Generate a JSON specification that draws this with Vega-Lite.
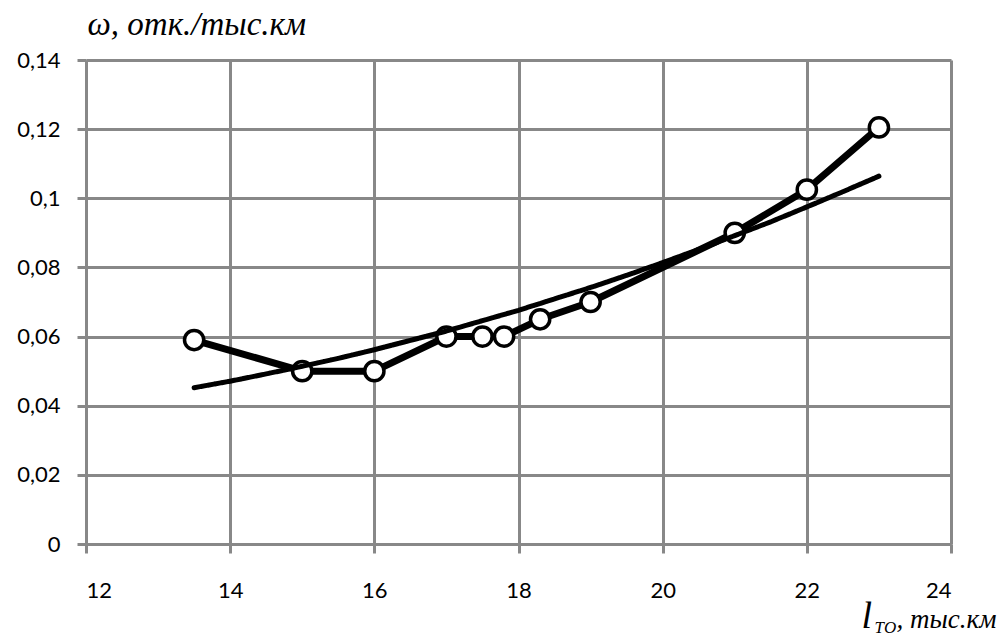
{
  "$schema": "https://vega.github.io/schema/vega-lite/v6.json",
  "width": 865,
  "height": 484,
  "autosize": {"type": "none"},
  "padding": {"left": 86, "top": 60, "right": 55, "bottom": 91},
  "background": "white",
  "config": {
    "view": {"stroke": null},
    "axis": {
      "labelFont": "Lato",
      "labelFontSize": 22,
      "labelColor": "black",
      "gridColor": "#888888",
      "gridWidth": 3,
      "gridOpacity": 1,
      "domainColor": "#888888",
      "domainWidth": 3,
      "tickColor": "#888888",
      "tickWidth": 3,
      "tickSize": 9,
      "titleFont": "Liberation Serif",
      "titleFontStyle": "italic",
      "titleFontWeight": "normal",
      "titleColor": "black"
    }
  },
  "datasets": {
    "obs": [
      {"l": 13.5, "w": 0.059},
      {"l": 15, "w": 0.05},
      {"l": 16, "w": 0.05},
      {"l": 17, "w": 0.06},
      {"l": 17.5, "w": 0.06},
      {"l": 17.8, "w": 0.06},
      {"l": 18.3, "w": 0.065},
      {"l": 19, "w": 0.07},
      {"l": 21, "w": 0.09},
      {"l": 22, "w": 0.1025},
      {"l": 23, "w": 0.1205}
    ],
    "trend": [
      {"l": 13.5, "w": 0.0452},
      {"l": 14, "w": 0.0471},
      {"l": 14.5, "w": 0.0492},
      {"l": 15, "w": 0.0514},
      {"l": 15.5, "w": 0.0537},
      {"l": 16, "w": 0.0562},
      {"l": 16.5, "w": 0.0589},
      {"l": 17, "w": 0.0616},
      {"l": 17.5, "w": 0.0646},
      {"l": 18, "w": 0.0676},
      {"l": 18.5, "w": 0.0709},
      {"l": 19, "w": 0.0742},
      {"l": 19.5, "w": 0.0777},
      {"l": 20, "w": 0.0814},
      {"l": 20.5, "w": 0.0852},
      {"l": 21, "w": 0.0892},
      {"l": 21.5, "w": 0.0932},
      {"l": 22, "w": 0.0975},
      {"l": 22.5, "w": 0.1019},
      {"l": 23, "w": 0.1064}
    ]
  },
  "encoding": {
    "y": {
      "field": "w",
      "type": "quantitative",
      "scale": {"domain": [0, 0.14], "nice": false, "zero": false},
      "axis": {
        "values": [0, 0.02, 0.04, 0.06, 0.08, 0.1, 0.12, 0.14],
        "labelExpr": "replace(format(datum.value, '.2~f'), '.', ',')",
        "labelPadding": 17,
        "grid": true,
        "title": "ω, отк./тыс.км",
        "titleAngle": 0,
        "titleAlign": "left",
        "titleBaseline": "alphabetic",
        "titleX": 1,
        "titleY": -26,
        "titleFontSize": 33
      }
    }
  },
  "resolve": {"axis": {"x": "independent"}},
  "layer": [
    {
      "data": {"name": "obs"},
      "mark": {"type": "line", "color": "black", "strokeWidth": 7, "strokeJoin": "round"},
      "encoding": {
        "x": {
          "field": "l",
          "type": "quantitative",
          "scale": {"domain": [12, 24], "nice": false, "zero": false},
          "axis": {
            "orient": "bottom",
            "values": [12, 14, 16, 18, 20, 22, 24],
            "grid": true,
            "labelBaseline": "alphabetic",
            "labelPadding": 44,
            "title": "l",
            "titleFontSize": 38,
            "titleAlign": "left",
            "titleBaseline": "alphabetic",
            "titleX": 775,
            "titleY": 83
          }
        }
      }
    },
    {
      "data": {"name": "obs"},
      "mark": {"type": "point", "shape": "circle", "filled": true, "fill": "white", "stroke": "black", "strokeWidth": 3.5, "size": 370, "opacity": 1},
      "encoding": {
        "x": {
          "field": "l",
          "type": "quantitative",
          "scale": {"domain": [12, 24], "nice": false, "zero": false},
          "axis": {
            "orient": "bottom",
            "grid": false,
            "labels": false,
            "ticks": false,
            "domain": false,
            "title": "ТО",
            "titleFontSize": 17,
            "titleAlign": "left",
            "titleBaseline": "alphabetic",
            "titleX": 788,
            "titleY": 88
          }
        }
      }
    },
    {
      "data": {"name": "trend"},
      "mark": {"type": "line", "color": "black", "strokeWidth": 5, "strokeCap": "round", "strokeDash": [6, 1]},
      "encoding": {
        "x": {
          "field": "l",
          "type": "quantitative",
          "scale": {"domain": [12, 24], "nice": false, "zero": false},
          "axis": {
            "orient": "bottom",
            "grid": false,
            "labels": false,
            "ticks": false,
            "domain": false,
            "title": ", тыс.км",
            "titleFontSize": 27,
            "titleAlign": "left",
            "titleBaseline": "alphabetic",
            "titleX": 810,
            "titleY": 83
          }
        }
      }
    }
  ]
}
